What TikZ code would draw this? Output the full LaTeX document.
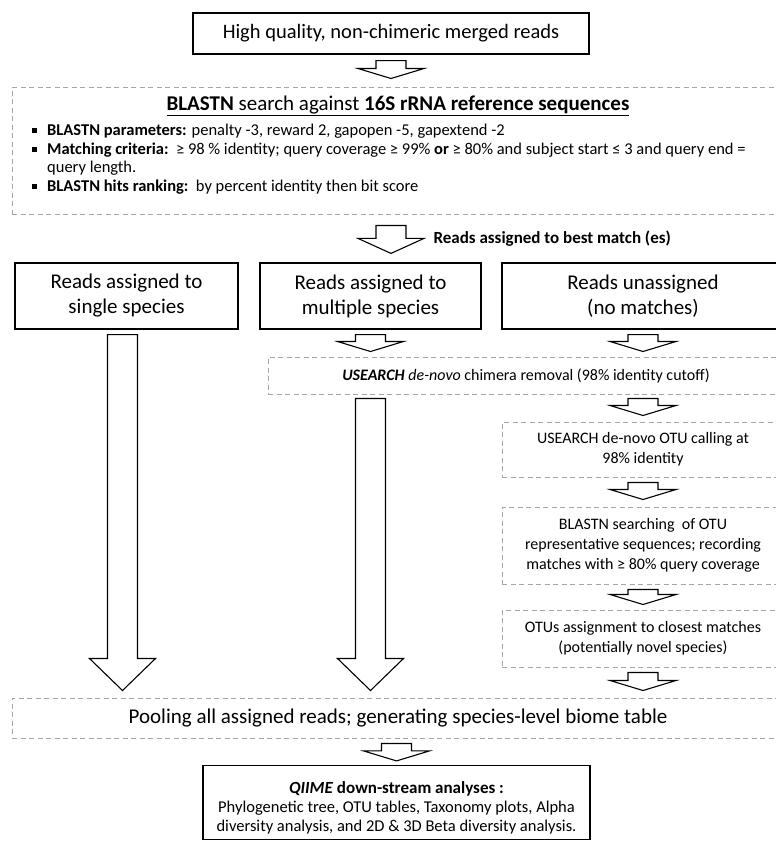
\documentclass[tikz,border=0pt]{standalone}
\usepackage{fontspec}
\setmainfont{Carlito}
\usetikzlibrary{calc}

\tikzset{
  solidbox/.style={draw=black, line width=1.2pt, align=center, inner sep=0pt},
  dashbox/.style={draw=gray!70, dash pattern=on 5pt off 3.5pt, line width=1pt, align=center, inner sep=0pt},
  blockarrow/.style={draw=black, fill=white, line width=1.1pt, line join=miter},
}

% block arrow: [head length]{from}{to}
\newcommand{\barrow}[3][10]{%
  \draw[blockarrow] let \p1=#2, \p2=#3 in
    (\x1-15pt,\y1) -- (\x1+15pt,\y1) -- (\x1+15pt,\y2+#1pt) -- (\x1+33pt,\y2+#1pt)
    -- (\x1,\y2) -- (\x1-33pt,\y2+#1pt) -- (\x1-15pt,\y2+#1pt) -- cycle;}

\newcommand{\fs}[2]{\fontsize{#1}{#2}\selectfont}
\newcommand{\sqbul}{\makebox[15pt][l]{\rule[2.5pt]{5pt}{5pt}}}

\begin{document}
\begin{tikzpicture}[x=1pt,y=-1pt]

	\useasboundingbox (0,0) rectangle (776,841);

	\node[solidbox, minimum width=396pt, minimum height=41pt, font=\fs{20.5}{24}] (top) at (391,33.5) {High quality, non-chimeric merged reads};

	\node[dashbox, minimum width=772pt, minimum height=127pt] (blast) at (398,150.5) {};
	\node[font=\fs{21}{24}] (blasttitle) at (398,106) {\underline{\textbf{BLASTN} search against \textbf{16S rRNA reference sequences}}};
	\node[anchor=north west, align=left, inner sep=0pt, font=\fs{16.5}{18.5}] (blastlist) at (32,124) {%
		\sqbul\textbf{BLASTN parameters:} penalty -3, reward 2, gapopen -5, gapextend -2\\
		\sqbul\textbf{Matching criteria:}\ \ ≥ 98 \% identity; query coverage ≥ 99\% \textbf{or} ≥ 80\% and subject start ≤ 3 and query end =\\
		\hspace*{15pt}query length.\\
		\sqbul\textbf{BLASTN hits ranking:}\ \ by percent identity then bit score};

	\node[anchor=west, font=\bfseries\fs{17}{20}] (bestlbl) at (430,239) {Reads assigned to best match (es)};

	\node[solidbox, minimum width=223pt, minimum height=66pt, font=\fs{21}{25}] (single) at (126.5,296) {Reads assigned to\\single species};
	\node[solidbox, minimum width=221pt, minimum height=66pt, font=\fs{21}{25}] (multi) at (370.5,296) {Reads assigned to\\multiple species};
	\node[solidbox, minimum width=282pt, minimum height=66pt, font=\fs{21}{25}] (none) at (643,296) {Reads unassigned\\(no matches)};

	\node[dashbox, minimum width=516pt, minimum height=37pt, font=\fs{16}{20}] (chimera) at (526,375.5) {\textbf{\textit{USEARCH}} \textit{de-novo} chimera removal (98\% identity cutoff)};
	\node[dashbox, minimum width=282pt, minimum height=55pt, font=\fs{16}{20}] (otucall) at (643,449.5) {USEARCH de-novo OTU calling at\\98\% identity};
	\node[dashbox, minimum width=282pt, minimum height=77pt, font=\fs{16}{20}] (bsearch) at (643,545.5) {BLASTN searching\ \ of OTU\\representative sequences; recording\\matches with ≥ 80\% query coverage};
	\node[dashbox, minimum width=282pt, minimum height=57pt, font=\fs{16}{20}] (otus) at (643,638.5) {OTUs assignment to closest matches\\(potentially novel species)};

	\node[dashbox, minimum width=772pt, minimum height=40pt, font=\fs{21}{24}] (pool) at (398,718) {Pooling all assigned reads; generating species-level biome table};

	\node[solidbox, minimum width=387pt, minimum height=74pt] (qiime) at (396.5,802.5) {};
	\node[font=\bfseries\fs{17}{20}] (qiimetitle) at (396.5,789) {\textit{QIIME} down-stream analyses :};
	\node[align=center, inner sep=0pt, font=\fs{16.5}{19}] (qiimetext) at (396.5,818) {Phylogenetic tree, OTU tables, Taxonomy plots, Alpha\\diversity analysis, and 2D \& 3D Beta diversity analysis.};

	% arrows
	\barrow{($(top.south)+(0,6)$)}{($(blast.north)+(0,-8)$)}
	\barrow[15]{($(blast.south -| top.south)+(0,11)$)}{($(multi.north -| top.south)+(0,-9)$)}
	\barrow{($(multi.south)+(0,5)$)}{($(multi.south |- chimera.north)+(0,-5)$)}
	\barrow{($(none.south)+(0,5)$)}{($(none.south |- chimera.north)+(0,-5)$)}
	\barrow{($(none.south |- chimera.south)+(0,4)$)}{($(otucall.north)+(0,-6)$)}
	\barrow{($(otucall.south)+(0,5)$)}{($(bsearch.north)+(0,-7)$)}
	\barrow{($(bsearch.south)+(0,5)$)}{($(otus.north)+(0,-5)$)}
	\barrow{($(otus.south)+(0,5)$)}{($(otus.south |- pool.north)+(0,-7)$)}
	\barrow[32]{($(single.south)+(-4,5)$)}{($(single.south |- pool.north)+(-4,-7)$)}
	\barrow[32]{($(multi.south |- chimera.south)+(0,4)$)}{($(multi.south |- pool.north)+(0,-7)$)}
	\barrow{($(pool.south -| qiime.north)+(0,5)$)}{($(qiime.north)+(0,-4)$)}

\end{tikzpicture}
\end{document}
